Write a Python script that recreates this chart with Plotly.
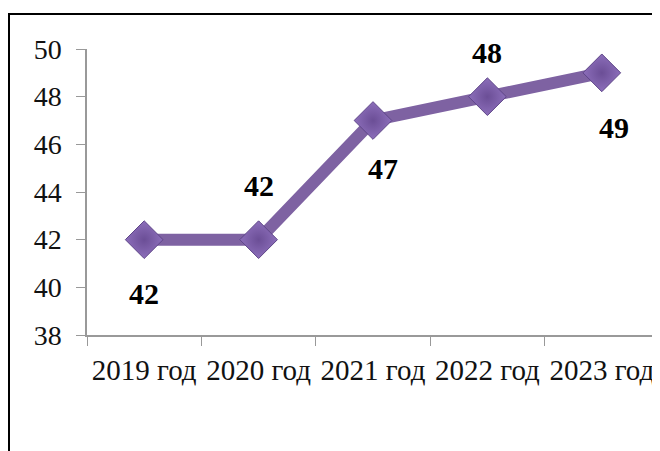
import plotly.graph_objects as go

categories = ["2019 год", "2020 год", "2021 год", "2022 год", "2023 год"]
values = [42, 42, 47, 48, 49]
label_dx = [0, 0, 10, 0, 12]
label_dy = [-54, 54, -48, 44, -55]
y_ticks = [38, 40, 42, 44, 46, 48, 50]

W, H = 660, 451
OFF = 8  # page body margin
L, R, T, B = 87 - OFF, 9, 49 - OFF, 451 - 335 + OFF

fig = go.Figure()
fig.add_trace(go.Scatter(
    x=categories, y=values, mode="lines+markers",
    line=dict(color="#7E62A2", width=12),
    marker=dict(symbol="diamond", size=29, color="#8C6EBA",
                gradient=dict(type="radial", color="#6B4E96"),
                line=dict(color="#5E4588", width=1)),
    cliponaxis=False, hoverinfo="skip",
))

for c, v, dx, dy in zip(categories, values, label_dx, label_dy):
    fig.add_annotation(x=c, y=v, text=str(v), showarrow=False,
                       xshift=dx, yshift=dy,
                       font=dict(family="Liberation Serif", size=30, color="#000000", weight="bold"))

pw = W - L - R
ph = H - T - B
def px_x(p):
    return (p - L) / pw
def px_y(p):
    return (H - B - p) / ph

frame = dict(color="#000000", width=2)
fig.add_shape(type="line", xref="paper", yref="paper",
              x0=px_x(0), x1=px_x(660), y0=px_y(6), y1=px_y(6), line=frame)
fig.add_shape(type="line", xref="paper", yref="paper",
              x0=px_x(1), x1=px_x(1), y0=px_y(6), y1=px_y(460), line=frame)

fig.update_layout(
    width=W, height=H, margin=dict(l=L, r=R, t=T, b=B),
    paper_bgcolor="white", plot_bgcolor="white", showlegend=False,
    font=dict(family="Liberation Serif", size=24, color="#111111"),
    xaxis=dict(type="category", range=[-0.5, 4.5], tickson="boundaries",
               ticks="outside", ticklen=9, tickcolor="#999999",
               showline=True, linecolor="#999999", linewidth=1.5,
               showgrid=False, zeroline=False, ticklabelstandoff=8,
               tickangle=0, automargin=False,
               tickfont=dict(family="Liberation Serif", size=29, color="#111111")),
    yaxis=dict(range=[38, 50], tickvals=y_ticks, ticks="outside", ticklen=9,
               tickcolor="#999999", showline=True, linecolor="#999999", linewidth=1.5,
               showgrid=False, zeroline=False, ticklabelstandoff=9, automargin=False,
               tickfont=dict(family="Liberation Serif", size=28, color="#111111")),
)

fig.write_html("out.html")
